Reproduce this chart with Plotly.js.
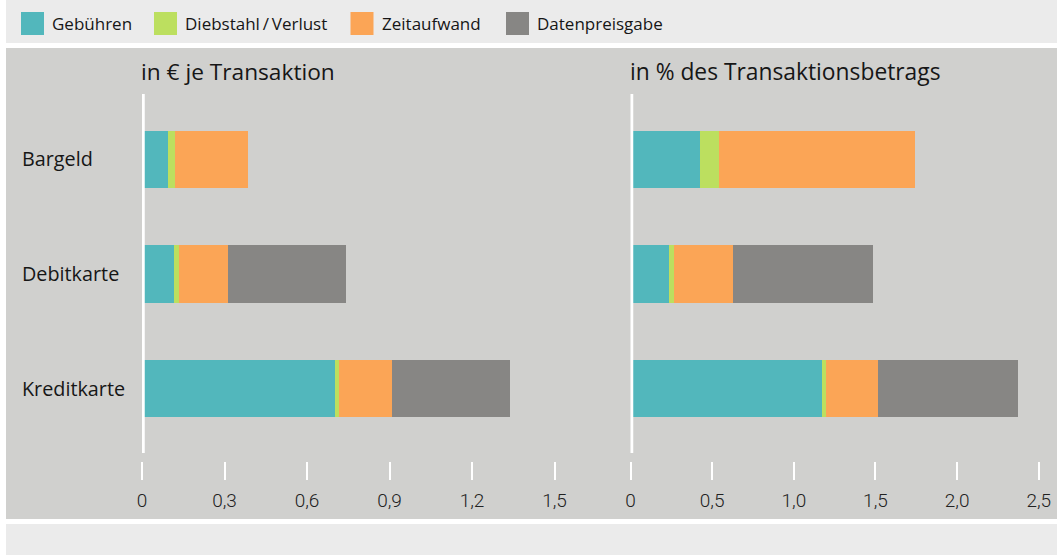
<!DOCTYPE html>
<html>
<head>
<meta charset="utf-8">
<script src="https://cdn.plot.ly/plotly-3.0.1.min.js"></script>
<style>
  html, body { margin: 0; padding: 0; background: #ffffff; }
  #chart { width: 1057px; height: 556px; }
</style>
</head>
<body>
<div id="chart"></div>
<script>
// ---------- data ----------
const categories = ['Bargeld', 'Debitkarte', 'Kreditkarte'];
const seriesNames = ['Gebühren', 'Diebstahl\u2009/\u2009Verlust', 'Zeitaufwand', 'Datenpreisgabe'];

// in € je Transaktion
const euroGebuehren   = [0.093, 0.118, 0.700];
const euroDiebstahl   = [0.027, 0.015, 0.016];
const euroZeitaufwand = [0.264, 0.181, 0.193];
const euroDaten       = [0,     0.429, 0.429];

// in % des Transaktionsbetrags
const pctGebuehren   = [0.424, 0.238, 1.171];
const pctDiebstahl   = [0.118, 0.026, 0.024];
const pctZeitaufwand = [1.200, 0.366, 0.323];
const pctDaten       = [0,     0.855, 0.855];

const panelTitles = ['in € je Transaktion', 'in % des Transaktionsbetrags'];
const euroTickVals = [0, 0.3, 0.6, 0.9, 1.2, 1.5];
const euroTickText = ['0', '0,3', '0,6', '0,9', '1,2', '1,5'];
const pctTickVals  = [0, 0.5, 1.0, 1.5, 2.0, 2.5];
const pctTickText  = ['0', '0,5', '1,0', '1,5', '2,0', '2,5'];

// ---------- styles ----------
const seriesColors = ['#52b7bc', '#bcdf5f', '#fba556', '#878684'];
const W = 1057, H = 556;
const fx = p => p / W;
const fy = p => 1 - p / H;
const FONT = '"Open Sans", "Noto Sans", sans-serif';
const TEXT = '#161616';

const euroSeries = [euroGebuehren, euroDiebstahl, euroZeitaufwand, euroDaten];
const pctSeries  = [pctGebuehren, pctDiebstahl, pctZeitaufwand, pctDaten];

const traces = [];
euroSeries.forEach((vals, i) => traces.push({
  type: 'bar', orientation: 'h', x: vals, y: categories, name: seriesNames[i],
  xaxis: 'x', yaxis: 'y', marker: { color: seriesColors[i], line: { width: 0 } },
  showlegend: false, hoverinfo: 'x+name'
}));
pctSeries.forEach((vals, i) => traces.push({
  type: 'bar', orientation: 'h', x: vals, y: categories, name: seriesNames[i],
  xaxis: 'x2', yaxis: 'y', marker: { color: seriesColors[i], line: { width: 0 } },
  showlegend: false, hoverinfo: 'x+name'
}));

// panel geometry (pixels)
const leftZero = 142, leftPxPerUnit = 275, leftMax = 1.65;
const rightZero = 630.5, rightPxPerUnit = 163.3;
const rightMax = (W - rightZero) / rightPxPerUnit;
const plotTop = 94, plotBottom = 453;        // white axis line extent
const bandTop = 102, bandStep = 114.7;        // category band geometry
const yLow = -0.5 - (bandTop - plotTop) / bandStep;
const yHigh = -0.5 + (plotBottom - bandTop) / bandStep;
const tickAxisY = 461;

const xCommon = {
  anchor: 'free', position: fy(tickAxisY),
  showgrid: false, zeroline: false, showline: false,
  ticks: 'outside', ticklen: 18, tickwidth: 2, tickcolor: '#ffffff',
  tickmode: 'array', ticklabelstandoff: 4,
  tickfont: { family: 'Roboto, "Open Sans", sans-serif', size: 19, color: '#222222', weight: 300 },
  fixedrange: true
};

const shapes = [
  // background bands
  { type: 'rect', xref: 'paper', yref: 'paper', x0: fx(6), x1: 1, y0: fy(43), y1: 1,
    fillcolor: '#ebebeb', line: { width: 0 }, layer: 'below' },
  { type: 'rect', xref: 'paper', yref: 'paper', x0: fx(6), x1: 1, y0: fy(519), y1: fy(48),
    fillcolor: '#d0d0ce', line: { width: 0 }, layer: 'below' },
  { type: 'rect', xref: 'paper', yref: 'paper', x0: fx(6), x1: 1, y0: fy(555), y1: fy(524),
    fillcolor: '#ebebeb', line: { width: 0 }, layer: 'below' },
  // white zero lines
  { type: 'line', xref: 'x', yref: 'paper', x0: 0, x1: 0, y0: fy(plotBottom), y1: fy(plotTop),
    line: { color: '#ffffff', width: 5.5 }, layer: 'above' },
  { type: 'line', xref: 'x2', yref: 'paper', x0: 0, x1: 0, y0: fy(plotBottom), y1: fy(plotTop),
    line: { color: '#ffffff', width: 5.5 }, layer: 'above' }
];

const annotations = [];
// custom legend
const legendX = [21, 154, 350.5, 506];
seriesNames.forEach((name, i) => {
  shapes.push({ type: 'rect', xref: 'paper', yref: 'paper',
    x0: fx(legendX[i]), x1: fx(legendX[i] + 23), y0: fy(35), y1: fy(12),
    fillcolor: seriesColors[i], line: { width: 0 } });
  annotations.push({ xref: 'paper', yref: 'paper', x: fx(legendX[i] + 29), y: fy(23.5),
    xanchor: 'left', yanchor: 'middle', showarrow: false, text: name,
    font: { family: FONT, size: 17, color: TEXT } });
});
// panel titles
[[leftZero - 3, panelTitles[0], 22.7], [rightZero - 3, panelTitles[1], 22.8]].forEach(([px, t, s]) => {
  annotations.push({ xref: 'paper', yref: 'paper', x: fx(px), y: fy(71.5),
    xanchor: 'left', yanchor: 'middle', showarrow: false, text: t,
    font: { family: FONT, size: s, color: TEXT } });
});

const layout = {
  width: W, height: H,
  margin: { l: 0, r: 0, t: 0, b: 0, pad: 0 },
  paper_bgcolor: '#ffffff', plot_bgcolor: 'rgba(0,0,0,0)',
  barmode: 'stack', bargap: 0.5,
  showlegend: false,
  font: { family: FONT, color: TEXT },
  xaxis: Object.assign({}, xCommon, {
    domain: [fx(leftZero), fx(leftZero + leftPxPerUnit * leftMax)],
    range: [0, leftMax], tickvals: euroTickVals, ticktext: euroTickText
  }),
  xaxis2: Object.assign({}, xCommon, {
    domain: [fx(rightZero), 1],
    range: [0, rightMax], tickvals: pctTickVals, ticktext: pctTickText
  }),
  yaxis: {
    type: 'category', categoryorder: 'array', categoryarray: categories,
    domain: [fy(plotBottom), fy(plotTop)], range: [yHigh, yLow],
    anchor: 'free', position: fx(18),
    showgrid: false, zeroline: false, showline: false, ticks: '',
    ticklabelposition: 'inside', ticklabelstandoff: 0,
    tickfont: { family: FONT, size: 19.8, color: TEXT },
    fixedrange: true
  },
  shapes: shapes,
  annotations: annotations
};

Plotly.newPlot('chart', traces, layout, { displayModeBar: false, staticPlot: true });
</script>
</body>
</html>
